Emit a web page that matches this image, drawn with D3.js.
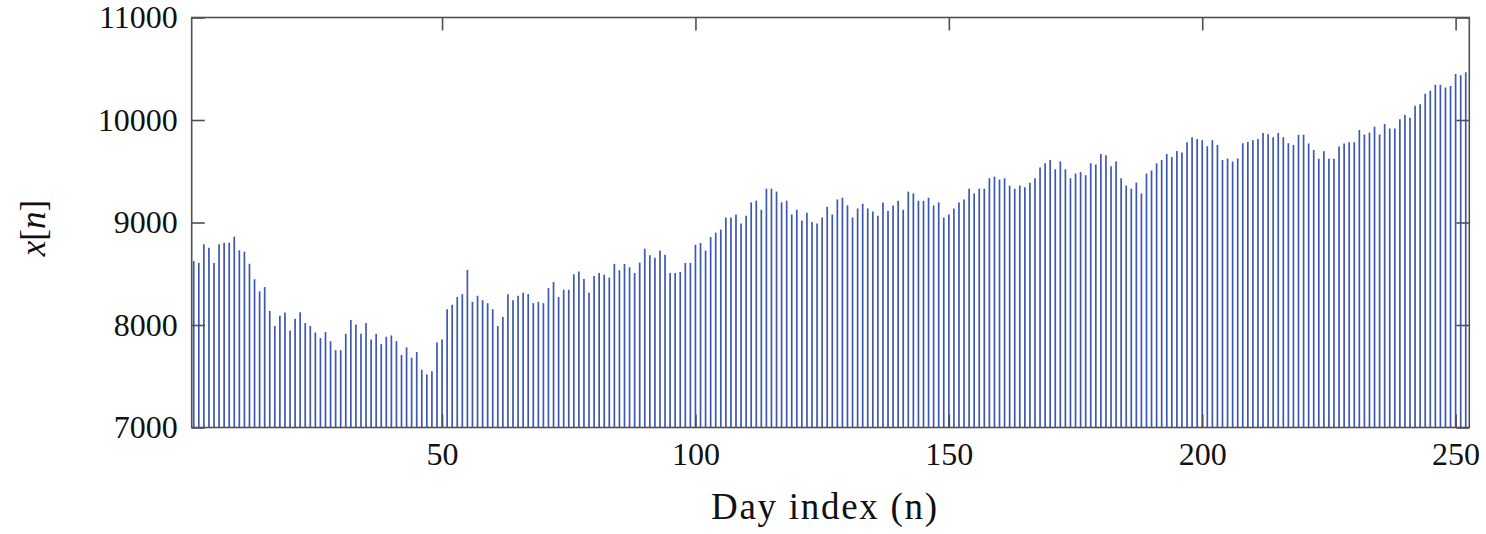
<!DOCTYPE html>
<html>
<head>
<meta charset="utf-8">
<script src="https://cdn.jsdelivr.net/npm/d3@7"></script>
<style>
  body { margin: 0; background: #fff; }
  text { font-family: "Liberation Serif", "DejaVu Serif", serif; fill: #111; }
</style>
</head>
<body>
<div id="chart"></div>
<script>
// daily values x[n], n = 1..252
var values = [
  8623, 8606, 8787, 8754, 8606, 8787, 8803, 8803, 8862, 8728,
  8715, 8597, 8446, 8328, 8370, 8137, 7990, 8091, 8121, 7947,
  8062, 8124, 8019, 7990, 7927, 7872, 7931, 7842, 7754, 7754,
  7914, 8049, 8006, 7914, 8019, 7858, 7914, 7813, 7885, 7898,
  7842, 7708, 7783, 7681, 7737, 7563, 7518, 7548, 7830, 7859,
  8154, 8197, 8272, 8301, 8537, 8226, 8285, 8242, 8213, 8154,
  7990, 8079, 8301, 8242, 8285, 8315, 8301, 8213, 8226, 8213,
  8360, 8419, 8272, 8344, 8344, 8495, 8521, 8449, 8315, 8478,
  8508, 8491, 8462, 8596, 8534, 8596, 8564, 8508, 8609, 8744,
  8681, 8655, 8727, 8685, 8508, 8508, 8518, 8606, 8606, 8783,
  8800, 8727, 8859, 8901, 8931, 9049, 9049, 9078, 8990, 9065,
  9196, 9213, 9124, 9330, 9330, 9301, 9196, 9213, 9078, 9124,
  9019, 9094, 9006, 8990, 9049, 9153, 9078, 9225, 9242, 9167,
  9049, 9137, 9183, 9137, 9107, 9065, 9196, 9111, 9166, 9212,
  9124, 9301, 9284, 9212, 9212, 9242, 9166, 9196, 9048, 9078,
  9137, 9196, 9225, 9330, 9284, 9330, 9330, 9432, 9448, 9419,
  9432, 9360, 9330, 9360, 9343, 9389, 9432, 9537, 9579, 9609,
  9520, 9596, 9520, 9432, 9478, 9491, 9461, 9579, 9566, 9668,
  9655, 9550, 9596, 9432, 9360, 9330, 9389, 9284, 9478, 9507,
  9579, 9609, 9668, 9638, 9697, 9684, 9782, 9832, 9815, 9802,
  9743, 9802, 9756, 9609, 9625, 9596, 9625, 9773, 9786, 9802,
  9815, 9874, 9861, 9832, 9874, 9832, 9773, 9756, 9855, 9855,
  9771, 9708, 9623, 9695, 9623, 9623, 9741, 9771, 9784, 9784,
  9902, 9859, 9875, 9934, 9859, 9961, 9918, 9918, 10007, 10049,
  10023, 10138, 10154, 10256, 10285, 10344, 10344, 10318, 10331, 10449,
  10436, 10465
];
var days = d3.range(1, values.length + 1);
var xTicks = [50, 100, 150, 200, 250];
var yTicks = [7000, 8000, 9000, 10000, 11000];
var xLabel = "Day index (n)";

var W = 1486, H = 534;
var plotL = 191.7, plotR = 1469.3, plotT = 17.5, plotB = 427.5;

var svg = d3.select("#chart").append("svg")
  .attr("width", W)
  .attr("height", H);

var x = d3.scaleLinear().domain([0.6, 252.7]).range([plotL, plotR]);
var y = d3.scaleLinear().domain([7000, 11000]).range([plotB, plotT]);

// stems
svg.append("g")
  .selectAll("line")
  .data(days)
  .enter().append("line")
  .attr("x1", function(d) { return x(d); })
  .attr("x2", function(d) { return x(d); })
  .attr("y1", y(7000))
  .attr("y2", function(d, i) { return y(values[i]); })
  .attr("stroke", "#3d58b0")
  .attr("stroke-width", 1.7);

var tickLen = 13;

// bottom axis (labels)
var gx = svg.append("g")
  .attr("transform", "translate(0," + plotB + ")")
  .call(d3.axisBottom(x).tickValues(xTicks).tickSizeInner(-tickLen).tickSizeOuter(0).tickPadding(15));

// top axis (ticks only)
var gxt = svg.append("g")
  .attr("transform", "translate(0," + plotT + ")")
  .call(d3.axisTop(x).tickValues(xTicks).tickSizeInner(-tickLen).tickSizeOuter(0).tickFormat(""));

// left axis (labels)
var gy = svg.append("g")
  .attr("transform", "translate(" + plotL + ",0)")
  .call(d3.axisLeft(y).tickValues(yTicks).tickSizeInner(-tickLen).tickSizeOuter(0).tickPadding(14)
    .tickFormat(d3.format("d")));

// right axis (ticks only)
var gyr = svg.append("g")
  .attr("transform", "translate(" + plotR + ",0)")
  .call(d3.axisRight(y).tickValues(yTicks).tickSizeInner(-tickLen).tickSizeOuter(0).tickFormat(""));

[gx, gxt, gy, gyr].forEach(function(g) {
  g.select(".domain").remove();
  g.selectAll(".tick line").attr("stroke", "#505050").attr("stroke-width", 1.6);
  g.selectAll("text")
    .style("font-family", "'Liberation Serif', serif")
    .style("font-size", "32px")
    .attr("fill", "#111");
});

// frame
svg.append("rect")
  .attr("x", plotL)
  .attr("y", plotT)
  .attr("width", plotR - plotL)
  .attr("height", plotB - plotT)
  .attr("fill", "none")
  .attr("stroke", "#505050")
  .attr("stroke-width", 1.6);

// x label
svg.append("text")
  .attr("x", 824)
  .attr("y", 519)
  .attr("text-anchor", "middle")
  .attr("textLength", 226)
  .attr("lengthAdjust", "spacing")
  .style("font-size", "37px")
  .text(xLabel);

// y label x[n]
var yl = svg.append("text")
  .attr("transform", "translate(45,228) rotate(-90)")
  .attr("text-anchor", "middle")
  .style("font-size", "35px");
yl.append("tspan").style("font-style", "italic").text("x");
yl.append("tspan").text("[");
yl.append("tspan").style("font-style", "italic").text("n");
yl.append("tspan").text("]");
</script>
</body>
</html>
